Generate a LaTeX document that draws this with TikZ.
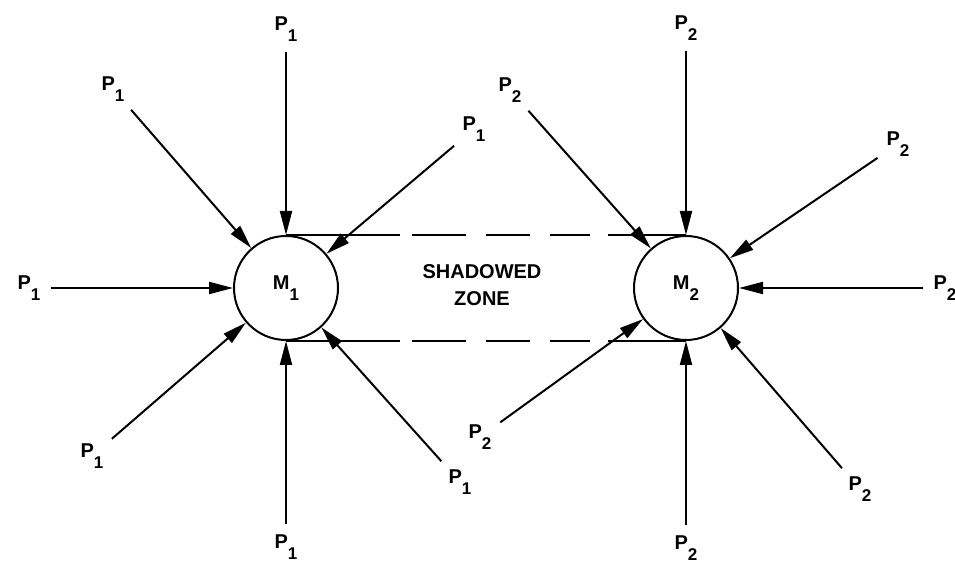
\documentclass[tikz,border=0pt]{standalone}
\usepackage{fontspec}
\setmainfont{Liberation Sans}
\usetikzlibrary{arrows.meta}

\newcommand{\lowsub}[1]{\raisebox{-5.5pt}{\fontsize{8.5}{10}\selectfont #1}}

\tikzstyle{mass} = [shape=circle,draw,line width=1pt,minimum size=52pt,inner sep=0pt,font=\fontsize{10}{12}\selectfont\bfseries]
\tikzstyle{force} = [inner sep=1pt,font=\fontsize{10}{12}\selectfont\bfseries]
\tikzstyle{zone} = [align=center,font=\fontsize{10}{13.5}\selectfont\bfseries]
\tikzstyle{arrowdecorate}=[-{Triangle[length=12pt,width=6pt]},line width=1pt,shorten <=4pt]
\tikzstyle{shadow edge} = [draw,line width=1pt,dash pattern=on 57pt off 6pt on 27pt off 10pt on 22pt off 10pt on 20pt off 9pt on 40pt off 0pt]

\begin{document}
\begin{tikzpicture}[x=0.5pt,y=-0.5pt]
      \useasboundingbox (0,0) rectangle (955,561);
      %masses
      \foreach \nodename/\x/\y/\value in {m1/286/288/1, m2/686/288/2}
      {
        \node[mass] (\nodename) at (\x,\y) {M\lowsub{\value}};
      };
      \node[zone] (zone) at (482,285) {SHADOWED\\ZONE};
      %shadow
      \path
      (m1.north) edge[shadow edge] (m2.north)
      (m1.south) edge[shadow edge] (m2.south);
      %forces
      \foreach \nodename/\x/\y/\value/\target in {
        pa/286/29/1/m1, pb/113/89/1/m1, pc/474/129/1/m1, pd/29/288/1/m1,
        pe/92/456/1/m1, pf/286/547/1/m1, pg/460/482/1/m1,
        qa/686/28/2/m2, qb/510/90/2/m2, qc/898/144/2/m2, qd/945/288/2/m2,
        qe/480/437/2/m2, qf/686/548/2/m2, qg/860/489/2/m2}
      {
        \node[force] (\nodename) at (\x,\y) {P\lowsub{\value}};
        \draw[arrowdecorate] (\nodename) -- (\target);
      };
\end{tikzpicture}
\end{document}
